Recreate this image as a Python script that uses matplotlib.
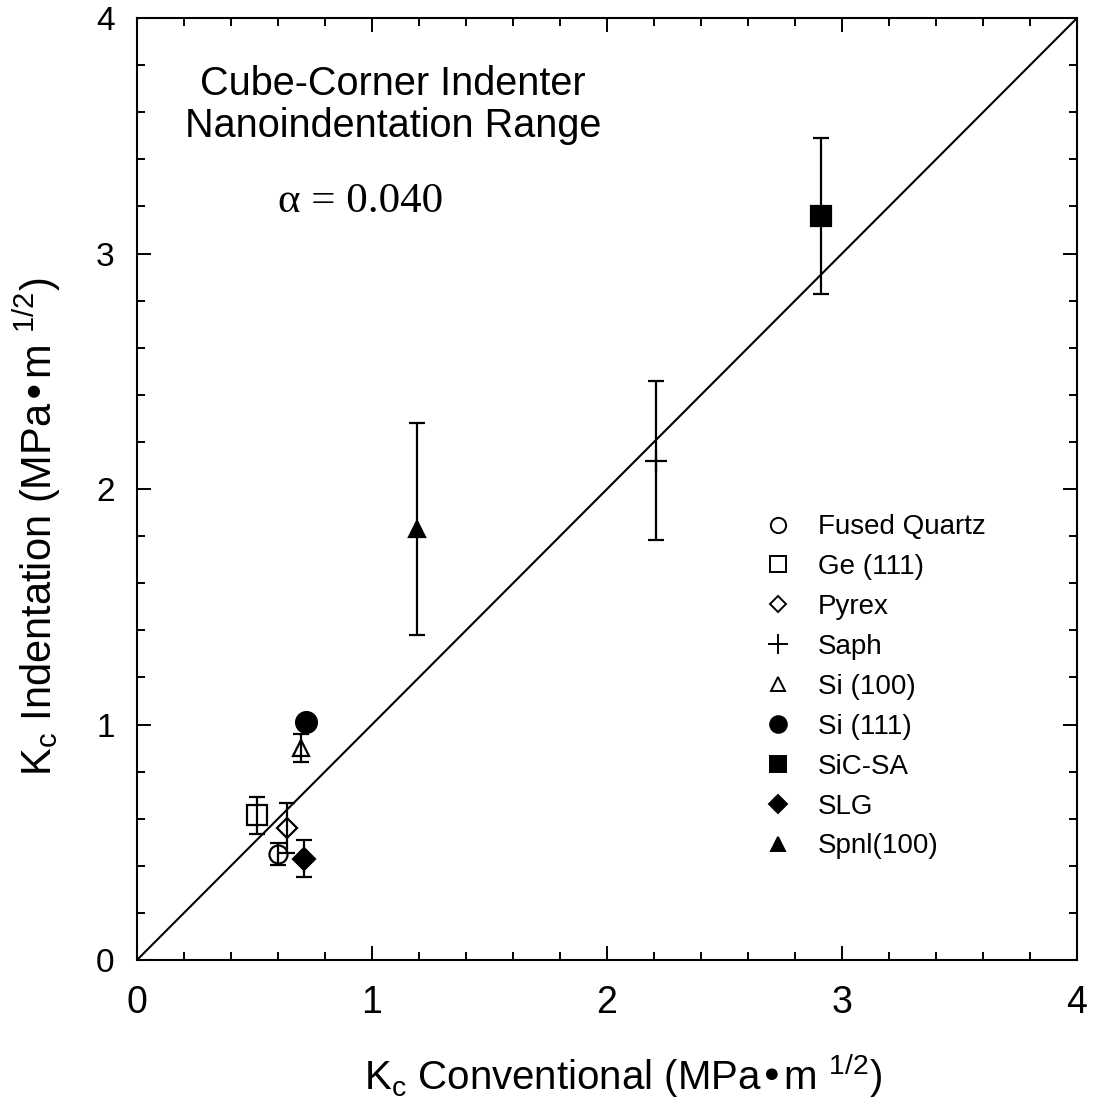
import matplotlib
matplotlib.use("Agg")
import matplotlib.pyplot as plt
from matplotlib.lines import Line2D
from matplotlib.ticker import MultipleLocator

plt.rcParams["font.family"] = ["Liberation Sans", "DejaVu Sans"]
plt.rcParams["mathtext.default"] = "regular"

# =========================
# data
# =========================
materials = ["Fused Quartz", "Ge (111)", "Pyrex", "Saph", "Si (100)",
             "Si (111)", "SiC-SA", "SLG", "Spnl(100)"]
kc_conv = [0.60, 0.51, 0.64, 2.21, 0.70, 0.72, 2.91, 0.71, 1.19]
kc_indent = [0.45, 0.615, 0.56, 2.12, 0.90, 1.01, 3.16, 0.43, 1.83]
kc_err = [0.045, 0.078, 0.105, 0.338, 0.06, 0.02, 0.33, 0.078, 0.45]

markers = ["o", "s", "D", "+", "^", "o", "s", "D", "^"]
filled = [False, False, False, False, False, True, True, True, True]
msizes = [13, 14, 10, 16, 12, 15, 15, 11, 12]
leg_sizes = [11, 11, 8, 14, 10, 12, 11, 9, 10]

# =========================
# plot
# =========================
fig = plt.figure(figsize=(10.93, 11.14), dpi=100)
ax = fig.add_axes([0.1253, 0.1382, 0.8601, 0.8456])

ax.plot([0, 4], [0, 4], color="black", lw=1.5, zorder=1)

handles = []
for i, name in enumerate(materials):
    fc = "black" if filled[i] else "none"
    ax.errorbar(kc_conv[i], kc_indent[i], yerr=kc_err[i], fmt=markers[i],
                ms=msizes[i], mfc=fc, mec="black", mew=1.6,
                ecolor="black", elinewidth=1.6, capsize=5.5, capthick=1.6,
                zorder=3)
    handles.append(Line2D([], [], ls="none", marker=markers[i],
                          ms=leg_sizes[i], mfc=fc, mec="black", mew=1.4,
                          label=name))

ax.set_xlim(0, 4)
ax.set_ylim(0, 4)
ax.xaxis.set_major_locator(MultipleLocator(1))
ax.yaxis.set_major_locator(MultipleLocator(1))
ax.xaxis.set_minor_locator(MultipleLocator(0.2))
ax.yaxis.set_minor_locator(MultipleLocator(0.2))
ax.tick_params(which="both", direction="in", top=True, right=True,
               width=1.4, color="black")
ax.tick_params(which="major", length=10)
ax.tick_params(which="minor", length=6)
ax.tick_params(axis="x", which="major", labelsize=27, pad=18)
ax.tick_params(axis="y", which="major", labelsize=24, pad=16)
for s in ax.spines.values():
    s.set_linewidth(1.5)

ax.set_xlabel(r"K$_{c}$ Conventional (MPa•m $^{1/2}$)", fontsize=29)
ax.xaxis.set_label_coords(0.517, -0.097)
ax.set_ylabel(r"K$_{c}$ Indentation (MPa•m $^{1/2}$)", fontsize=30)
ax.yaxis.set_label_coords(-0.079, 0.46)

# annotations
ax.text(1.09, 3.63, "Cube-Corner Indenter\nNanoindentation Range",
        fontsize=28.5, ha="center", va="center", linespacing=1.12)
ax.text(0.953, 3.22, "α = 0.040", family="Liberation Serif", fontsize=31,
        ha="center", va="center")

ax.legend(handles=handles, loc="center left", bbox_to_anchor=(0.652, 0.29),
          frameon=False, fontsize=20, handlelength=1.2, handletextpad=0.85,
          labelspacing=0.5, borderaxespad=0)

fig.savefig("out.png", dpi=100)
